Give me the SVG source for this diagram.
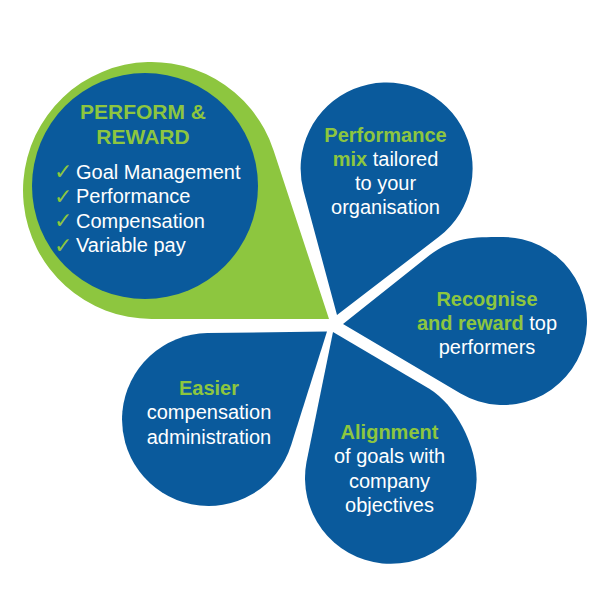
<svg xmlns="http://www.w3.org/2000/svg" width="600" height="600" viewBox="0 0 600 600">
<style>
.blue{fill:#0a5a9c}
.green{fill:#8dc63f}
text{font-family:"Liberation Sans",Arial,sans-serif;font-size:20px;fill:#ffffff;text-anchor:middle}
.b{font-weight:bold;fill:#8dc63f}
.h{font-weight:bold;fill:#8dc63f;font-size:21px}
.l{text-anchor:start}
.ck{font-family:"DejaVu Sans",sans-serif;font-size:22px;fill:#8dc63f;text-anchor:start}
</style>
<rect width="600" height="600" fill="#ffffff"/>
<g id="perform-reward">
<path class="green" d="M329,319 L273.6,150.4 A128.5,128.5 0 1 0 151.5,319 Z"/>
<circle class="blue" cx="145" cy="186" r="113"/>
<text class="h" x="143" y="119">PERFORM &amp;</text>
<text class="h" x="143" y="144">REWARD</text>
<text class="ck" x="54" y="179">✓</text><text class="l" x="76" y="178.5">Goal Management</text>
<text class="ck" x="54" y="203.5">✓</text><text class="l" x="76" y="203">Performance</text>
<text class="ck" x="54" y="228">✓</text><text class="l" x="76" y="227.5">Compensation</text>
<text class="ck" x="54" y="252.5">✓</text><text class="l" x="76" y="252">Variable pay</text>
</g>
<g id="performance-mix">
<path class="blue" d="M337,315 L303.6,191 A86,86 0 1 1 438.9,236.8 Z"/>
<text class="b" x="385.5" y="141.5">Performance</text>
<text x="385.5" y="166"><tspan class="b">mix</tspan> tailored</text>
<text x="385.5" y="190">to your</text>
<text x="385.5" y="214">organisation</text>
</g>
<g id="recognise">
<path class="blue" d="M343,324 L429.8,255.1 C453.6,236.8 475,237 503,237 A84,84 0 1 1 460.6,393.5 Z"/>
<text class="b" x="487" y="305.5">Recognise</text>
<text x="487" y="329.5"><tspan class="b">and reward</tspan> top</text>
<text x="487" y="353.5">performers</text>
</g>
<g id="alignment">
<path class="blue" d="M333,332 L429.3,388.7 C455,404.1 476.6,445 476.6,479.2 A85.8,85.8 0 1 1 306.5,462.1 Z"/>
<text class="b" x="389.5" y="438.5">Alignment</text>
<text x="389.5" y="463">of goals with</text>
<text x="389.5" y="487.5">company</text>
<text x="389.5" y="511.5">objectives</text>
</g>
<g id="easier">
<path class="blue" d="M327,331.5 L207.4,333 A86.5,86.5 0 1 0 291,445.6 Z"/>
<text class="b" x="209" y="394.5">Easier</text>
<text x="209" y="419">compensation</text>
<text x="209" y="443.5">administration</text>
</g>
<g id="connectors"/>
</svg>
